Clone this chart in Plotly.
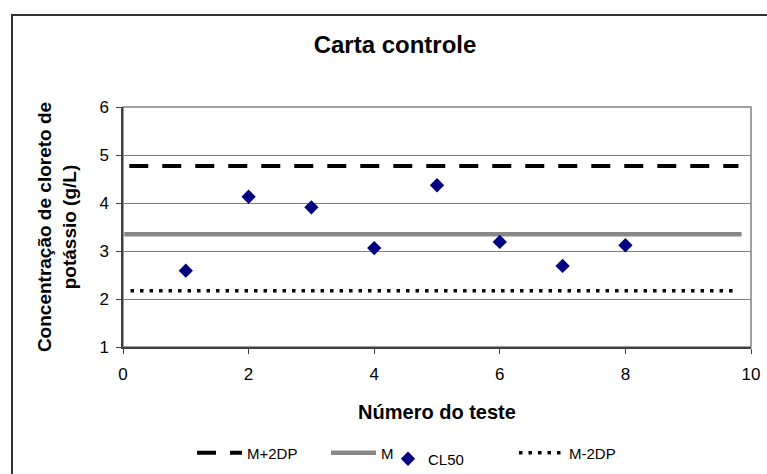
import plotly.graph_objects as go

teste = [1, 2, 3, 4, 5, 6, 7, 8]
cl50 = [2.59, 4.13, 3.91, 3.06, 4.37, 3.19, 2.69, 3.12]
linha_x = [0.1, 9.8]
m_mais = [4.77, 4.77]
m_val = [3.35, 3.35]
m_menos = [2.17, 2.17]

fnt = "Liberation Sans, Arial, sans-serif"
L, R, T, B = 123, 751, 107, 347
W, H = 767, 474
pw, ph = R - L, B - T

def px(x):
    return (x - L) / pw

def py(y):
    return (B - y) / ph

fig = go.Figure()
fig.add_trace(go.Scatter(x=linha_x, y=m_mais, mode="lines", name="M+2DP", legend="legend",
                         line=dict(color="black", width=4, dash="19px,14px")))
fig.add_trace(go.Scatter(x=[0.02, 9.85], y=m_val, mode="lines", name="M", legend="legend2",
                         line=dict(color="#888888", width=4.5)))
fig.add_trace(go.Scatter(x=teste, y=cl50, mode="markers", name="CL50", legend="legend3",
                         marker=dict(symbol="diamond", color="#000080", size=11)))
fig.add_trace(go.Scatter(x=[0.12, 9.8], y=m_menos, mode="lines", name="M-2DP", legend="legend4",
                         line=dict(color="black", width=3.5, dash="3.5px,6px")))

leg_common = dict(orientation="h", xanchor="left", yanchor="middle",
                  font=dict(size=15, family=fnt), bgcolor="rgba(0,0,0,0)", borderwidth=0)

fig.update_layout(
    width=W, height=H,
    margin=dict(l=L, r=W - R, t=T, b=H - B, autoexpand=False),
    paper_bgcolor="white", plot_bgcolor="white",
    font=dict(family=fnt, size=16, color="black"),
    title=dict(text="<b>Carta controle</b>", x=px(395), xref="paper", xanchor="center",
               y=(H - 45) / H, yref="container", yanchor="middle",
               font=dict(size=24, family=fnt)),
    showlegend=True,
    legend=dict(leg_common, x=px(192), y=py(453), itemwidth=45),
    legend2=dict(leg_common, x=px(326), y=py(453), itemwidth=45),
    legend3=dict(leg_common, x=px(388), y=py(459), itemwidth=30),
    legend4=dict(leg_common, x=px(514), y=py(453), itemwidth=45),
    xaxis=dict(range=[0, 10], dtick=2, showgrid=False, zeroline=False,
               showline=True, linecolor="#404040", linewidth=1.5,
               ticks="outside", ticklen=5, tickcolor="#404040",
               tickfont=dict(size=17), ticklabelstandoff=6,
               title=dict(text="<b>Número do teste</b>", font=dict(size=20), standoff=22)),
    yaxis=dict(range=[1, 6], dtick=1, showgrid=True, gridcolor="#808080", gridwidth=1,
               zeroline=False, showline=True, linecolor="#404040", linewidth=1.5,
               ticks="outside", ticklen=5, tickcolor="#404040",
               tickfont=dict(size=17), ticklabelstandoff=4,
               title=dict(text="<b>Concentração de cloreto de<br>potássio (g/L)</b>",
                          font=dict(size=19), standoff=18)),
)
fig.add_shape(type="rect", xref="paper", yref="paper", x0=0, x1=1, y0=0, y1=1,
              line=dict(color="#808080", width=1.5), fillcolor="rgba(0,0,0,0)", layer="below")
fig.add_shape(type="rect", xref="paper", yref="paper",
              x0=px(12), x1=px(W + 20), y0=py(H + 20), y1=py(15),
              line=dict(color="#333333", width=2), fillcolor="rgba(0,0,0,0)", layer="below")
fig.write_html("out.html", config={"displayModeBar": False},
               post_script="document.body.style.margin='0';document.body.style.overflow='hidden';")
